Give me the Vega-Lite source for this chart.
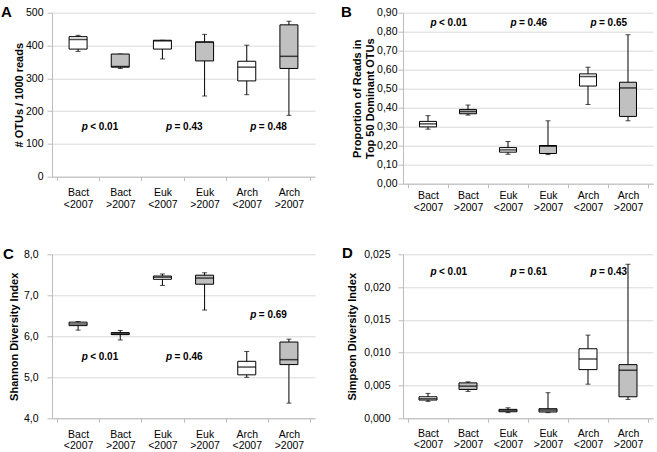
{
  "$schema": "https://vega.github.io/schema/vega-lite/v6.json",
  "padding": {"left": 1, "top": 4.7, "right": 3, "bottom": 3},
  "background": "white",
  "config": {
    "view": {"stroke": null},
    "font": "Liberation Sans",
    "axis": {
      "labelFont": "Liberation Sans", "labelFontSize": 10.5, "labelColor": "#000",
      "titleFont": "Liberation Sans", "titleFontSize": 11, "titleFontWeight": "bold", "titleColor": "#000",
      "domainColor": "#bdbdbd", "tickColor": "#bdbdbd", "gridColor": "#d9d9d9", "labelOverlap": false
    }
  },
  "datasets": {
    "otu": [
      {"pos": 1, "period": "<2007", "min": 382, "q1": 389, "median": 418, "q3": 427, "max": 431},
      {"pos": 2, "period": ">2007", "min": 330, "q1": 334, "median": 336, "q3": 374, "max": 374},
      {"pos": 3, "period": "<2007", "min": 359, "q1": 389, "median": 414, "q3": 416, "max": 416},
      {"pos": 4, "period": ">2007", "min": 246, "q1": 353, "median": 410, "q3": 411, "max": 434},
      {"pos": 5, "period": "<2007", "min": 250, "q1": 292, "median": 334, "q3": 352, "max": 401},
      {"pos": 6, "period": ">2007", "min": 187, "q1": 330, "median": 367, "q3": 463, "max": 474}
    ],
    "otu_p": [
      {"pos": 1.5, "y": 150, "stat": "< 0.01"},
      {"pos": 3.5, "y": 150, "stat": "= 0.43"},
      {"pos": 5.5, "y": 150, "stat": "= 0.48"}
    ],
    "prop": [
      {"pos": 1, "period": "<2007", "min": 0.287, "q1": 0.299, "median": 0.315, "q3": 0.328, "max": 0.358},
      {"pos": 2, "period": ">2007", "min": 0.361, "q1": 0.368, "median": 0.380, "q3": 0.391, "max": 0.414},
      {"pos": 3, "period": "<2007", "min": 0.155, "q1": 0.166, "median": 0.178, "q3": 0.190, "max": 0.222},
      {"pos": 4, "period": ">2007", "min": 0.153, "q1": 0.159, "median": 0.197, "q3": 0.201, "max": 0.331},
      {"pos": 5, "period": "<2007", "min": 0.417, "q1": 0.514, "median": 0.564, "q3": 0.578, "max": 0.613},
      {"pos": 6, "period": ">2007", "min": 0.331, "q1": 0.354, "median": 0.504, "q3": 0.534, "max": 0.784}
    ],
    "prop_p": [
      {"pos": 1.5, "y": 0.847, "stat": "< 0.01"},
      {"pos": 3.5, "y": 0.847, "stat": "= 0.46"},
      {"pos": 5.5, "y": 0.847, "stat": "= 0.65"}
    ],
    "shannon": [
      {"pos": 1, "period": "<2007", "min": 6.15, "q1": 6.26, "median": 6.30, "q3": 6.345, "max": 6.36},
      {"pos": 2, "period": ">2007", "min": 5.91, "q1": 6.04, "median": 6.06, "q3": 6.09, "max": 6.14},
      {"pos": 3, "period": "<2007", "min": 7.24, "q1": 7.39, "median": 7.44, "q3": 7.47, "max": 7.52},
      {"pos": 4, "period": ">2007", "min": 6.64, "q1": 7.27, "median": 7.42, "q3": 7.49, "max": 7.55},
      {"pos": 5, "period": "<2007", "min": 5.00, "q1": 5.06, "median": 5.25, "q3": 5.39, "max": 5.63},
      {"pos": 6, "period": ">2007", "min": 4.37, "q1": 5.31, "median": 5.43, "q3": 5.86, "max": 5.93}
    ],
    "shannon_p": [
      {"pos": 1.5, "y": 5.5, "stat": "< 0.01"},
      {"pos": 3.5, "y": 5.5, "stat": "= 0.46"},
      {"pos": 5.5, "y": 6.52, "stat": "= 0.69"}
    ],
    "simpson": [
      {"pos": 1, "period": "<2007", "min": 0.00258, "q1": 0.00278, "median": 0.00298, "q3": 0.00328, "max": 0.00379},
      {"pos": 2, "period": ">2007", "min": 0.0041, "q1": 0.0044, "median": 0.0049, "q3": 0.0054, "max": 0.00556},
      {"pos": 3, "period": "<2007", "min": 0.00086, "q1": 0.0010, "median": 0.0012, "q3": 0.00136, "max": 0.0016},
      {"pos": 4, "period": ">2007", "min": 0.00086, "q1": 0.00096, "median": 0.00126, "q3": 0.00146, "max": 0.0039},
      {"pos": 5, "period": "<2007", "min": 0.0052, "q1": 0.00742, "median": 0.00904, "q3": 0.0106, "max": 0.01268},
      {"pos": 6, "period": ">2007", "min": 0.00288, "q1": 0.00328, "median": 0.00732, "q3": 0.00818, "max": 0.02348}
    ],
    "simpson_p": [
      {"pos": 1.5, "y": 0.02232, "stat": "< 0.01"},
      {"pos": 3.5, "y": 0.02232, "stat": "= 0.61"},
      {"pos": 5.5, "y": 0.02232, "stat": "= 0.43"}
    ]
  },
  "columns": 2,
  "bounds": "flush",
  "spacing": {"row": 70.6, "column": 88},
  "concat": [
    {
      "width": 263, "height": 164,
      "title": {"text": "A", "anchor": "start", "frame": "group", "dx": -51, "dy": 24.5, "offset": 0, "baseline": "alphabetic", "fontSize": 15, "fontWeight": "bold", "font": "Liberation Sans", "color": "#000"},
      "encoding": {
        "x": {"field": "pos", "type": "quantitative", "title": null,
          "scale": {"domain": [0.5, 6.5], "nice": false, "zero": false},
          "axis": {"values": [0.5, 1, 1.5, 2, 2.5, 3, 3.5, 4, 4.5, 5, 5.5, 6, 6.5],
            "labelExpr": "datum.value % 1 === 0 ? [['Bact','<2007'],['Bact','>2007'],['Euk','<2007'],['Euk','>2007'],['Arch','<2007'],['Arch','>2007']][datum.value - 1] : ''",
            "tickOpacity": {"condition": {"test": "datum.value % 1 === 0", "value": 0}, "value": 1},
            "grid": false, "labelOverlap": false, "labelFlush": false, "labelBound": false,
            "labelBaseline": "top", "labelPadding": 7, "labelLineHeight": 11.5, "tickSize": 4}}
      },
      "layer": [
        {"data": {"name": "otu"}, "mark": {"type": "rule", "color": "#000", "strokeWidth": 1},
          "encoding": {
            "y": {"field": "min", "type": "quantitative", "title": "# OTUs / 1000 reads", "scale": {"domain": [0, 500], "nice": false},
              "axis": {"values": [0, 100, 200, 300, 400, 500], "grid": true, "tickSize": 5, "labelPadding": 4, "titleX": -33, "titleBaseline": "middle"}},
            "y2": {"field": "max"}}},
        {"data": {"name": "otu"}, "mark": {"type": "tick", "orient": "horizontal", "size": 5, "thickness": 1, "color": "#000"},
          "encoding": {"y": {"field": "min", "type": "quantitative", "title": "# OTUs / 1000 reads", "scale": {"domain": [0, 500], "nice": false},
              "axis": {"values": [0, 100, 200, 300, 400, 500], "grid": true, "tickSize": 5, "labelPadding": 4, "titleX": -33, "titleBaseline": "middle"}}}},
        {"data": {"name": "otu"}, "mark": {"type": "tick", "orient": "horizontal", "size": 5, "thickness": 1, "color": "#000"},
          "encoding": {"y": {"field": "max", "type": "quantitative", "title": "# OTUs / 1000 reads", "scale": {"domain": [0, 500], "nice": false},
              "axis": {"values": [0, 100, 200, 300, 400, 500], "grid": true, "tickSize": 5, "labelPadding": 4, "titleX": -33, "titleBaseline": "middle"}}}},
        {"data": {"name": "otu"}, "mark": {"type": "bar", "orient": "vertical", "size": 18, "stroke": "#000", "strokeWidth": 1},
          "encoding": {
            "y": {"field": "q1", "type": "quantitative", "title": "# OTUs / 1000 reads", "scale": {"domain": [0, 500], "nice": false},
              "axis": {"values": [0, 100, 200, 300, 400, 500], "grid": true, "tickSize": 5, "labelPadding": 4, "titleX": -33, "titleBaseline": "middle"}},
            "y2": {"field": "q3"},
            "fill": {"field": "period", "type": "nominal", "scale": {"domain": ["<2007", ">2007"], "range": ["#ffffff", "#c0c0c0"]}, "legend": null}}},
        {"data": {"name": "otu"}, "mark": {"type": "tick", "orient": "horizontal", "size": 18, "thickness": 1.5, "color": "#000"},
          "encoding": {"y": {"field": "median", "type": "quantitative", "title": "# OTUs / 1000 reads", "scale": {"domain": [0, 500], "nice": false},
              "axis": {"values": [0, 100, 200, 300, 400, 500], "grid": true, "tickSize": 5, "labelPadding": 4, "titleX": -33, "titleBaseline": "middle"}}}},
        {"data": {"name": "otu_p"}, "mark": {"type": "text", "text": "p", "fontStyle": "italic", "fontWeight": "bold", "fontSize": 10, "align": "left", "baseline": "middle", "dx": -17.5, "color": "#000"},
          "encoding": {"y": {"field": "y", "type": "quantitative", "title": "# OTUs / 1000 reads", "scale": {"domain": [0, 500], "nice": false},
              "axis": {"values": [0, 100, 200, 300, 400, 500], "grid": true, "tickSize": 5, "labelPadding": 4, "titleX": -33, "titleBaseline": "middle"}}}},
        {"data": {"name": "otu_p"}, "mark": {"type": "text", "fontWeight": "bold", "fontSize": 10, "align": "left", "baseline": "middle", "dx": -9, "color": "#000"},
          "encoding": {"y": {"field": "y", "type": "quantitative", "title": "# OTUs / 1000 reads", "scale": {"domain": [0, 500], "nice": false},
              "axis": {"values": [0, 100, 200, 300, 400, 500], "grid": true, "tickSize": 5, "labelPadding": 4, "titleX": -33, "titleBaseline": "middle"}}, "text": {"field": "stat"}}}
      ]
    },
    {
      "width": 250, "height": 171,
      "title": {"text": "B", "anchor": "start", "frame": "group", "dx": -62, "dy": 24.5, "offset": 0, "baseline": "alphabetic", "fontSize": 15, "fontWeight": "bold", "font": "Liberation Sans", "color": "#000"},
      "encoding": {
        "x": {"field": "pos", "type": "quantitative", "title": null,
          "scale": {"domain": [0.5, 6.5], "nice": false, "zero": false},
          "axis": {"values": [0.5, 1, 1.5, 2, 2.5, 3, 3.5, 4, 4.5, 5, 5.5, 6, 6.5],
            "labelExpr": "datum.value % 1 === 0 ? [['Bact','<2007'],['Bact','>2007'],['Euk','<2007'],['Euk','>2007'],['Arch','<2007'],['Arch','>2007']][datum.value - 1] : ''",
            "tickOpacity": {"condition": {"test": "datum.value % 1 === 0", "value": 0}, "value": 1},
            "grid": false, "labelOverlap": false, "labelFlush": false, "labelBound": false,
            "labelBaseline": "top", "labelPadding": 3, "labelLineHeight": 11.5, "tickSize": 4}}
      },
      "layer": [
        {"data": {"name": "prop"}, "mark": {"type": "rule", "color": "#000", "strokeWidth": 1},
          "encoding": {
            "y": {"field": "min", "type": "quantitative", "title": ["Proportion of Reads in", "Top 50 Dominant OTUs"], "scale": {"domain": [0, 0.9], "nice": false},
              "axis": {"values": [0, 0.1, 0.2, 0.3, 0.4, 0.5, 0.6, 0.7, 0.8, 0.9], "labelExpr": "replace(format(datum.value, '.2f'), '.', ',')", "grid": true, "tickSize": 5, "labelPadding": 1, "titleX": -45.5, "titleBaseline": "middle", "titleLineHeight": 13}},
            "y2": {"field": "max"}}},
        {"data": {"name": "prop"}, "mark": {"type": "tick", "orient": "horizontal", "size": 5, "thickness": 1, "color": "#000"},
          "encoding": {"y": {"field": "min", "type": "quantitative", "title": ["Proportion of Reads in", "Top 50 Dominant OTUs"], "scale": {"domain": [0, 0.9], "nice": false},
              "axis": {"values": [0, 0.1, 0.2, 0.3, 0.4, 0.5, 0.6, 0.7, 0.8, 0.9], "labelExpr": "replace(format(datum.value, '.2f'), '.', ',')", "grid": true, "tickSize": 5, "labelPadding": 1, "titleX": -45.5, "titleBaseline": "middle", "titleLineHeight": 13}}}},
        {"data": {"name": "prop"}, "mark": {"type": "tick", "orient": "horizontal", "size": 5, "thickness": 1, "color": "#000"},
          "encoding": {"y": {"field": "max", "type": "quantitative", "title": ["Proportion of Reads in", "Top 50 Dominant OTUs"], "scale": {"domain": [0, 0.9], "nice": false},
              "axis": {"values": [0, 0.1, 0.2, 0.3, 0.4, 0.5, 0.6, 0.7, 0.8, 0.9], "labelExpr": "replace(format(datum.value, '.2f'), '.', ',')", "grid": true, "tickSize": 5, "labelPadding": 1, "titleX": -45.5, "titleBaseline": "middle", "titleLineHeight": 13}}}},
        {"data": {"name": "prop"}, "mark": {"type": "bar", "orient": "vertical", "size": 17, "stroke": "#000", "strokeWidth": 1},
          "encoding": {
            "y": {"field": "q1", "type": "quantitative", "title": ["Proportion of Reads in", "Top 50 Dominant OTUs"], "scale": {"domain": [0, 0.9], "nice": false},
              "axis": {"values": [0, 0.1, 0.2, 0.3, 0.4, 0.5, 0.6, 0.7, 0.8, 0.9], "labelExpr": "replace(format(datum.value, '.2f'), '.', ',')", "grid": true, "tickSize": 5, "labelPadding": 1, "titleX": -45.5, "titleBaseline": "middle", "titleLineHeight": 13}},
            "y2": {"field": "q3"},
            "fill": {"field": "period", "type": "nominal", "scale": {"domain": ["<2007", ">2007"], "range": ["#ffffff", "#c0c0c0"]}, "legend": null}}},
        {"data": {"name": "prop"}, "mark": {"type": "tick", "orient": "horizontal", "size": 17, "thickness": 1.5, "color": "#000"},
          "encoding": {"y": {"field": "median", "type": "quantitative", "title": ["Proportion of Reads in", "Top 50 Dominant OTUs"], "scale": {"domain": [0, 0.9], "nice": false},
              "axis": {"values": [0, 0.1, 0.2, 0.3, 0.4, 0.5, 0.6, 0.7, 0.8, 0.9], "labelExpr": "replace(format(datum.value, '.2f'), '.', ',')", "grid": true, "tickSize": 5, "labelPadding": 1, "titleX": -45.5, "titleBaseline": "middle", "titleLineHeight": 13}}}},
        {"data": {"name": "prop_p"}, "mark": {"type": "text", "text": "p", "fontStyle": "italic", "fontWeight": "bold", "fontSize": 10, "align": "left", "baseline": "middle", "dx": -17.5, "color": "#000"},
          "encoding": {"y": {"field": "y", "type": "quantitative", "title": ["Proportion of Reads in", "Top 50 Dominant OTUs"], "scale": {"domain": [0, 0.9], "nice": false},
              "axis": {"values": [0, 0.1, 0.2, 0.3, 0.4, 0.5, 0.6, 0.7, 0.8, 0.9], "labelExpr": "replace(format(datum.value, '.2f'), '.', ',')", "grid": true, "tickSize": 5, "labelPadding": 1, "titleX": -45.5, "titleBaseline": "middle", "titleLineHeight": 13}}}},
        {"data": {"name": "prop_p"}, "mark": {"type": "text", "fontWeight": "bold", "fontSize": 10, "align": "left", "baseline": "middle", "dx": -9, "color": "#000"},
          "encoding": {"y": {"field": "y", "type": "quantitative", "title": ["Proportion of Reads in", "Top 50 Dominant OTUs"], "scale": {"domain": [0, 0.9], "nice": false},
              "axis": {"values": [0, 0.1, 0.2, 0.3, 0.4, 0.5, 0.6, 0.7, 0.8, 0.9], "labelExpr": "replace(format(datum.value, '.2f'), '.', ',')", "grid": true, "tickSize": 5, "labelPadding": 1, "titleX": -45.5, "titleBaseline": "middle", "titleLineHeight": 13}}, "text": {"field": "stat"}}}
      ]
    },
    {
      "width": 263, "height": 164,
      "title": {"text": "C", "anchor": "start", "frame": "group", "dx": -49, "dy": 25, "offset": 0, "baseline": "alphabetic", "fontSize": 15, "fontWeight": "bold", "font": "Liberation Sans", "color": "#000"},
      "encoding": {
        "x": {"field": "pos", "type": "quantitative", "title": null,
          "scale": {"domain": [0.5, 6.5], "nice": false, "zero": false},
          "axis": {"values": [0.5, 1, 1.5, 2, 2.5, 3, 3.5, 4, 4.5, 5, 5.5, 6, 6.5],
            "labelExpr": "datum.value % 1 === 0 ? [['Bact','<2007'],['Bact','>2007'],['Euk','<2007'],['Euk','>2007'],['Arch','<2007'],['Arch','>2007']][datum.value - 1] : ''",
            "tickOpacity": {"condition": {"test": "datum.value % 1 === 0", "value": 0}, "value": 1},
            "grid": false, "labelOverlap": false, "labelFlush": false, "labelBound": false,
            "labelBaseline": "top", "labelPadding": 7, "labelLineHeight": 11.5, "tickSize": 4}}
      },
      "layer": [
        {"data": {"name": "shannon"}, "mark": {"type": "rule", "color": "#000", "strokeWidth": 1},
          "encoding": {
            "y": {"field": "min", "type": "quantitative", "title": "Shannon Diversity Index", "scale": {"domain": [4, 8], "nice": false, "zero": false},
              "axis": {"values": [4, 5, 6, 7, 8], "labelExpr": "replace(format(datum.value, '.1f'), '.', ',')", "grid": true, "tickSize": 5, "labelPadding": 9, "titleX": -38, "titleBaseline": "middle"}},
            "y2": {"field": "max"}}},
        {"data": {"name": "shannon"}, "mark": {"type": "tick", "orient": "horizontal", "size": 5, "thickness": 1, "color": "#000"},
          "encoding": {"y": {"field": "min", "type": "quantitative", "title": "Shannon Diversity Index", "scale": {"domain": [4, 8], "nice": false, "zero": false},
              "axis": {"values": [4, 5, 6, 7, 8], "labelExpr": "replace(format(datum.value, '.1f'), '.', ',')", "grid": true, "tickSize": 5, "labelPadding": 9, "titleX": -38, "titleBaseline": "middle"}}}},
        {"data": {"name": "shannon"}, "mark": {"type": "tick", "orient": "horizontal", "size": 5, "thickness": 1, "color": "#000"},
          "encoding": {"y": {"field": "max", "type": "quantitative", "title": "Shannon Diversity Index", "scale": {"domain": [4, 8], "nice": false, "zero": false},
              "axis": {"values": [4, 5, 6, 7, 8], "labelExpr": "replace(format(datum.value, '.1f'), '.', ',')", "grid": true, "tickSize": 5, "labelPadding": 9, "titleX": -38, "titleBaseline": "middle"}}}},
        {"data": {"name": "shannon"}, "mark": {"type": "bar", "orient": "vertical", "size": 18, "stroke": "#000", "strokeWidth": 1},
          "encoding": {
            "y": {"field": "q1", "type": "quantitative", "title": "Shannon Diversity Index", "scale": {"domain": [4, 8], "nice": false, "zero": false},
              "axis": {"values": [4, 5, 6, 7, 8], "labelExpr": "replace(format(datum.value, '.1f'), '.', ',')", "grid": true, "tickSize": 5, "labelPadding": 9, "titleX": -38, "titleBaseline": "middle"}},
            "y2": {"field": "q3"},
            "fill": {"field": "period", "type": "nominal", "scale": {"domain": ["<2007", ">2007"], "range": ["#ffffff", "#c0c0c0"]}, "legend": null}}},
        {"data": {"name": "shannon"}, "mark": {"type": "tick", "orient": "horizontal", "size": 18, "thickness": 1.5, "color": "#000"},
          "encoding": {"y": {"field": "median", "type": "quantitative", "title": "Shannon Diversity Index", "scale": {"domain": [4, 8], "nice": false, "zero": false},
              "axis": {"values": [4, 5, 6, 7, 8], "labelExpr": "replace(format(datum.value, '.1f'), '.', ',')", "grid": true, "tickSize": 5, "labelPadding": 9, "titleX": -38, "titleBaseline": "middle"}}}},
        {"data": {"name": "shannon_p"}, "mark": {"type": "text", "text": "p", "fontStyle": "italic", "fontWeight": "bold", "fontSize": 10, "align": "left", "baseline": "middle", "dx": -17.5, "color": "#000"},
          "encoding": {"y": {"field": "y", "type": "quantitative", "title": "Shannon Diversity Index", "scale": {"domain": [4, 8], "nice": false, "zero": false},
              "axis": {"values": [4, 5, 6, 7, 8], "labelExpr": "replace(format(datum.value, '.1f'), '.', ',')", "grid": true, "tickSize": 5, "labelPadding": 9, "titleX": -38, "titleBaseline": "middle"}}}},
        {"data": {"name": "shannon_p"}, "mark": {"type": "text", "fontWeight": "bold", "fontSize": 10, "align": "left", "baseline": "middle", "dx": -9, "color": "#000"},
          "encoding": {"y": {"field": "y", "type": "quantitative", "title": "Shannon Diversity Index", "scale": {"domain": [4, 8], "nice": false, "zero": false},
              "axis": {"values": [4, 5, 6, 7, 8], "labelExpr": "replace(format(datum.value, '.1f'), '.', ',')", "grid": true, "tickSize": 5, "labelPadding": 9, "titleX": -38, "titleBaseline": "middle"}}, "text": {"field": "stat"}}}
      ]
    },
    {
      "width": 250, "height": 164,
      "title": {"text": "D", "anchor": "start", "frame": "group", "dx": -61, "dy": 24, "offset": 0, "baseline": "alphabetic", "fontSize": 15, "fontWeight": "bold", "font": "Liberation Sans", "color": "#000"},
      "encoding": {
        "x": {"field": "pos", "type": "quantitative", "title": null,
          "scale": {"domain": [0.5, 6.5], "nice": false, "zero": false},
          "axis": {"values": [0.5, 1, 1.5, 2, 2.5, 3, 3.5, 4, 4.5, 5, 5.5, 6, 6.5],
            "labelExpr": "datum.value % 1 === 0 ? [['Bact','<2007'],['Bact','>2007'],['Euk','<2007'],['Euk','>2007'],['Arch','<2007'],['Arch','>2007']][datum.value - 1] : ''",
            "tickOpacity": {"condition": {"test": "datum.value % 1 === 0", "value": 0}, "value": 1},
            "grid": false, "labelOverlap": false, "labelFlush": false, "labelBound": false,
            "labelBaseline": "top", "labelPadding": 6, "labelLineHeight": 11.5, "tickSize": 4}}
      },
      "layer": [
        {"data": {"name": "simpson"}, "mark": {"type": "rule", "color": "#000", "strokeWidth": 1},
          "encoding": {
            "y": {"field": "min", "type": "quantitative", "title": "Simpson Diversity Index", "scale": {"domain": [0, 0.025], "nice": false},
              "axis": {"values": [0, 0.005, 0.01, 0.015, 0.02, 0.025], "labelExpr": "replace(format(datum.value, '.3f'), '.', ',')", "grid": true, "tickSize": 5, "labelPadding": 8, "titleX": -50.3, "titleBaseline": "middle"}},
            "y2": {"field": "max"}}},
        {"data": {"name": "simpson"}, "mark": {"type": "tick", "orient": "horizontal", "size": 5, "thickness": 1, "color": "#000"},
          "encoding": {"y": {"field": "min", "type": "quantitative", "title": "Simpson Diversity Index", "scale": {"domain": [0, 0.025], "nice": false},
              "axis": {"values": [0, 0.005, 0.01, 0.015, 0.02, 0.025], "labelExpr": "replace(format(datum.value, '.3f'), '.', ',')", "grid": true, "tickSize": 5, "labelPadding": 8, "titleX": -50.3, "titleBaseline": "middle"}}}},
        {"data": {"name": "simpson"}, "mark": {"type": "tick", "orient": "horizontal", "size": 5, "thickness": 1, "color": "#000"},
          "encoding": {"y": {"field": "max", "type": "quantitative", "title": "Simpson Diversity Index", "scale": {"domain": [0, 0.025], "nice": false},
              "axis": {"values": [0, 0.005, 0.01, 0.015, 0.02, 0.025], "labelExpr": "replace(format(datum.value, '.3f'), '.', ',')", "grid": true, "tickSize": 5, "labelPadding": 8, "titleX": -50.3, "titleBaseline": "middle"}}}},
        {"data": {"name": "simpson"}, "mark": {"type": "bar", "orient": "vertical", "size": 18, "stroke": "#000", "strokeWidth": 1},
          "encoding": {
            "y": {"field": "q1", "type": "quantitative", "title": "Simpson Diversity Index", "scale": {"domain": [0, 0.025], "nice": false},
              "axis": {"values": [0, 0.005, 0.01, 0.015, 0.02, 0.025], "labelExpr": "replace(format(datum.value, '.3f'), '.', ',')", "grid": true, "tickSize": 5, "labelPadding": 8, "titleX": -50.3, "titleBaseline": "middle"}},
            "y2": {"field": "q3"},
            "fill": {"field": "period", "type": "nominal", "scale": {"domain": ["<2007", ">2007"], "range": ["#ffffff", "#c0c0c0"]}, "legend": null}}},
        {"data": {"name": "simpson"}, "mark": {"type": "tick", "orient": "horizontal", "size": 18, "thickness": 1.5, "color": "#000"},
          "encoding": {"y": {"field": "median", "type": "quantitative", "title": "Simpson Diversity Index", "scale": {"domain": [0, 0.025], "nice": false},
              "axis": {"values": [0, 0.005, 0.01, 0.015, 0.02, 0.025], "labelExpr": "replace(format(datum.value, '.3f'), '.', ',')", "grid": true, "tickSize": 5, "labelPadding": 8, "titleX": -50.3, "titleBaseline": "middle"}}}},
        {"data": {"name": "simpson_p"}, "mark": {"type": "text", "text": "p", "fontStyle": "italic", "fontWeight": "bold", "fontSize": 10, "align": "left", "baseline": "middle", "dx": -17.5, "color": "#000"},
          "encoding": {"y": {"field": "y", "type": "quantitative", "title": "Simpson Diversity Index", "scale": {"domain": [0, 0.025], "nice": false},
              "axis": {"values": [0, 0.005, 0.01, 0.015, 0.02, 0.025], "labelExpr": "replace(format(datum.value, '.3f'), '.', ',')", "grid": true, "tickSize": 5, "labelPadding": 8, "titleX": -50.3, "titleBaseline": "middle"}}}},
        {"data": {"name": "simpson_p"}, "mark": {"type": "text", "fontWeight": "bold", "fontSize": 10, "align": "left", "baseline": "middle", "dx": -9, "color": "#000"},
          "encoding": {"y": {"field": "y", "type": "quantitative", "title": "Simpson Diversity Index", "scale": {"domain": [0, 0.025], "nice": false},
              "axis": {"values": [0, 0.005, 0.01, 0.015, 0.02, 0.025], "labelExpr": "replace(format(datum.value, '.3f'), '.', ',')", "grid": true, "tickSize": 5, "labelPadding": 8, "titleX": -50.3, "titleBaseline": "middle"}}, "text": {"field": "stat"}}}
      ]
    }
  ]
}
